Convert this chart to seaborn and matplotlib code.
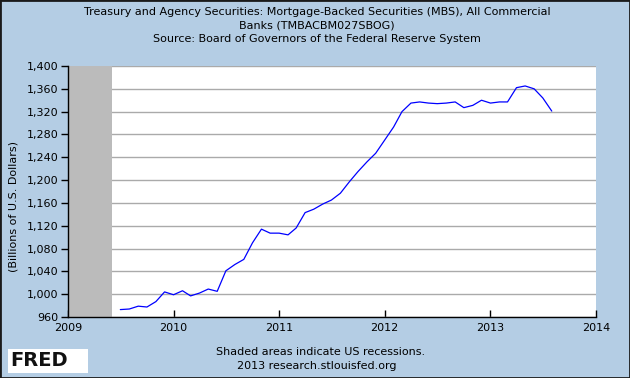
import pandas as pd
import seaborn as sns
import matplotlib.pyplot as plt
import matplotlib.dates as mdates
from matplotlib.patches import Rectangle
from matplotlib.ticker import FuncFormatter

# Dados mensais (bilhoes de dolares)
datas = pd.date_range('2009-07-01', '2013-08-01', freq='MS')
valores = [973, 974, 979, 977.5, 987, 1004,
           999, 1006, 997, 1002, 1009, 1005, 1041, 1052, 1061, 1090, 1114, 1107,
           1107, 1104, 1116, 1143, 1149, 1158, 1165, 1177, 1197, 1215, 1232, 1247,
           1270, 1293, 1320, 1335, 1337, 1335, 1334, 1335, 1337, 1327, 1331, 1340,
           1335, 1337, 1337, 1362, 1365, 1360, 1344, 1321]
recessao_inicio = '2009-01-01'
recessao_fim = '2009-06-01'
yticks = list(range(960, 1401, 40))
xanos = ['2009', '2010', '2011', '2012', '2013', '2014']

dados = pd.DataFrame({'data': datas, 'valor': valores})

fundo = '#B4CDE4'
sns.set_style('white')
plt.rcParams['font.family'] = ['DejaVu Sans']
plt.rcParams['text.color'] = 'black'
plt.rcParams['xtick.color'] = 'black'
plt.rcParams['ytick.color'] = 'black'

fig = plt.figure(figsize=(6.3, 3.78), dpi=100, facecolor=fundo)
ax = fig.add_axes([68/630, 1 - 317/378, 528/630, 251/378])
ax.set_facecolor('white')

ax.axvspan(pd.Timestamp(recessao_inicio), pd.Timestamp(recessao_fim),
           color='#BBBBBB', lw=0, zorder=1)
sns.lineplot(data=dados, x='data', y='valor', ax=ax, color='#0000FF', lw=0.9, zorder=3)

ax.set_xlim(pd.Timestamp(xanos[0]), pd.Timestamp(xanos[-1]))
ax.set_ylim(yticks[0], yticks[-1])
ax.set_yticks(yticks)
ax.yaxis.set_major_formatter(FuncFormatter(lambda v, p: f'{int(v):,}'))
ax.set_xticks([pd.Timestamp(a) for a in xanos])
ax.xaxis.set_major_formatter(mdates.DateFormatter('%Y'))
ax.grid(axis='y', color='#AAAAAA', lw=1, zorder=0)
ax.set_axisbelow(True)

for lado in ['top', 'right']:
    ax.spines[lado].set_visible(False)
for lado in ['left', 'bottom']:
    ax.spines[lado].set_color('black')
    ax.spines[lado].set_linewidth(1)
ax.tick_params(axis='y', direction='out', length=5, width=1, labelsize=8, pad=2, left=True)
ax.tick_params(axis='x', direction='in', length=5, width=1, labelsize=8, pad=4, bottom=True)
ax.set_xlabel('')
ax.set_ylabel('')

fig.text(14/630, 1 - 207/378, '(Billions of U.S. Dollars)', rotation=90,
         ha='center', va='center', fontsize=8)

cx = 317/630
fig.text(cx, 1 - 12/378, 'Treasury and Agency Securities: Mortgage-Backed Securities (MBS), All Commercial',
         ha='center', va='center', fontsize=8)
fig.text(cx, 1 - 25.5/378, 'Banks (TMBACBM027SBOG)', ha='center', va='center', fontsize=8)
fig.text(cx, 1 - 39/378, 'Source: Board of Governors of the Federal Reserve System',
         ha='center', va='center', fontsize=8)
fig.text(321/630, 1 - 352/378, 'Shaded areas indicate US recessions.', ha='center', va='center', fontsize=8)
fig.text(cx, 1 - 366/378, '2013 research.stlouisfed.org', ha='center', va='center', fontsize=8)

# logo FRED
fig.patches.append(Rectangle((8/630, 1 - 373/378), 80/630, 24/378, transform=fig.transFigure,
                             facecolor='white', edgecolor='none'))
fig.text(10/630, 1 - 361/378, 'FRED', fontsize=14, fontweight='bold', ha='left', va='center',
         color='#111111')

fig.patches.append(Rectangle((0, 0), 1, 1, transform=fig.transFigure, fill=False,
                             edgecolor='#1A1A1A', lw=2))

fig.savefig('out.png', dpi=100, facecolor=fundo)
